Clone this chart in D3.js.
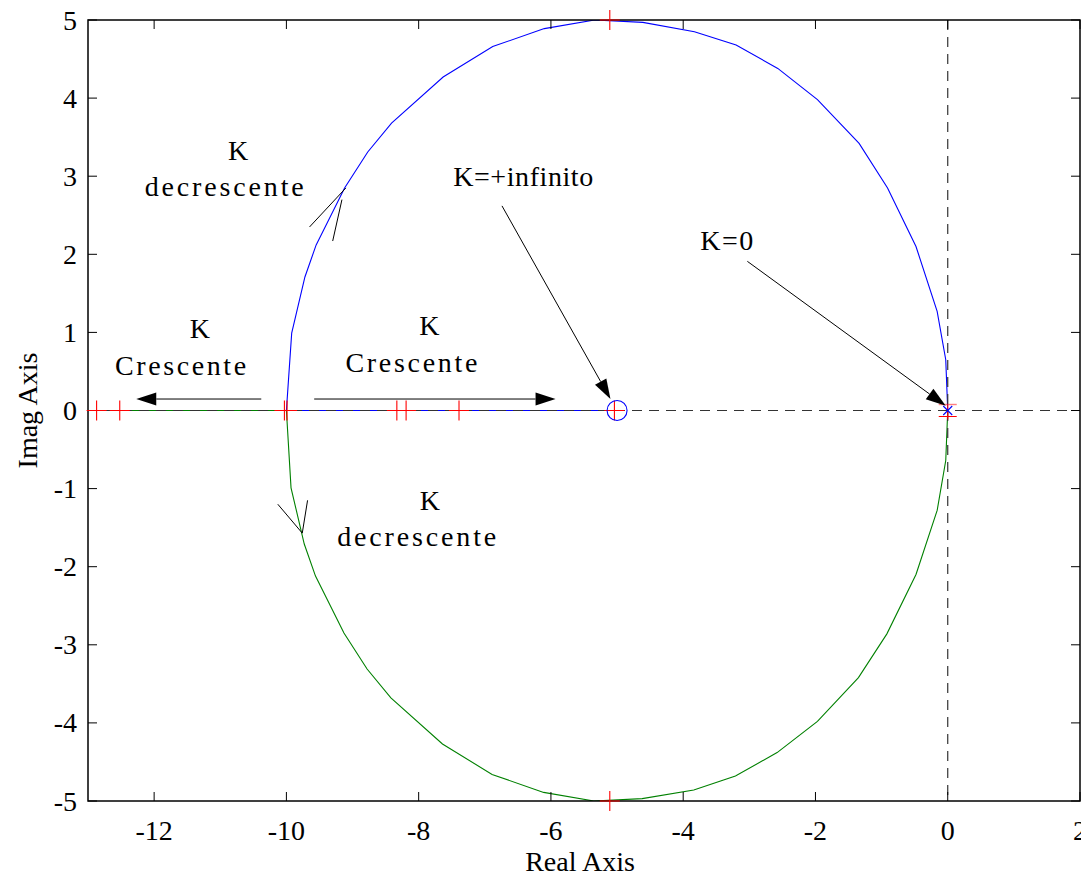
<!DOCTYPE html>
<html>
<head>
<meta charset="utf-8">
<script src="https://cdn.jsdelivr.net/npm/d3@7"></script>
<style>
  html, body { margin: 0; padding: 0; background: #fff; }
  svg { display: block; }
  text { font-family: "Liberation Serif", "Times New Roman", serif; fill: #000; }
</style>
</head>
<body>
<svg id="chart" width="1081" height="879"></svg>
<script>
// Root locus branches (real / imaginary parts of the closed-loop poles)
const upperBranchReal = [0, -0.03, -0.16, -0.48, -0.91, -1.34, -1.97, -2.57, -3.20, -3.83, -4.61, -5.34, -6.10, -6.88, -7.63, -8.41, -8.77, -9.12, -9.55, -9.72, -9.92, -10.0, -8.3, -7.4, -5.0];
const upperBranchImag = [0, 0.65, 1.27, 2.10, 2.85, 3.42, 3.98, 4.38, 4.68, 4.85, 4.97, 5.00, 4.89, 4.66, 4.27, 3.68, 3.31, 2.85, 2.12, 1.71, 0.99, 0, 0, 0, 0];
const lowerBranchReal = [0, -0.03, -0.16, -0.48, -0.92, -1.35, -1.97, -2.58, -3.21, -3.84, -4.62, -5.35, -6.11, -6.89, -7.64, -8.42, -8.78, -9.13, -9.56, -9.73, -9.93, -10.0, -12.5, -13.0];
const lowerBranchImag = [0, -0.64, -1.28, -2.10, -2.86, -3.42, -3.98, -4.38, -4.68, -4.86, -4.97, -5.00, -4.89, -4.66, -4.27, -3.68, -3.31, -2.85, -2.12, -1.71, -0.99, 0, 0, 0];

// Open-loop pole and zero
const poleReal = [0], poleImag = [0];
const zeroReal = [-5], zeroImag = [0];

// Selected gain points marked with "+"
const gainMarkReal = [-12.87, -12.52, -10.03, -9.99, -8.33, -8.19, -7.39, -5.04, -5.11, -5.11];
const gainMarkImag = [0, 0, 0, 0, 0, 0, 0, 0, 5.0, -5.0];

// Axis ticks
const xTicks = [-12, -10, -8, -6, -4, -2, 0, 2];
const yTicks = [-5, -4, -3, -2, -1, 0, 1, 2, 3, 4, 5];

// Text annotations (data coordinates)
const noteText = ["K", "decrescente", "K", "Crescente", "K", "Crescente", "K=+infinito", "K=0", "K", "decrescente"];
const noteReal = [-10.73, -10.94, -11.31, -11.60, -7.84, -8.11, -6.42, -3.34, -7.83, -8.03];
const noteImag = [3.21, 2.75, 0.93, 0.45, 0.97, 0.49, 2.87, 2.06, -1.27, -1.73];
const noteWidth = [null, 159, null, 131, null, 132, 140, 53, null, 159];

// Filled arrows: start -> tip
const arrowFromReal = [-10.38, -9.58, -6.74, -3.03];
const arrowFromImag = [0.147, 0.147, 2.62, 1.91];
const arrowToReal = [-12.27, -5.93, -5.10, -0.03];
const arrowToImag = [0.147, 0.147, 0.147, 0.06];

// Open direction strokes on the arcs
const strokeX1 = [-9.65, -9.30, -10.13, -9.68];
const strokeY1 = [2.35, 2.17, -1.20, -1.15];
const strokeX2 = [-9.10, -9.16, -9.76, -9.76];
const strokeY2 = [2.85, 2.70, -1.57, -1.57];

const svg = d3.select("#chart");
const x = d3.scaleLinear().domain([-13, 2]).range([88, 1080]);
const y = d3.scaleLinear().domain([-5, 5]).range([801, 20]);

const plot = svg.append("g");
plot.append("clipPath").attr("id", "plotClip")
  .append("rect").attr("x", x(-13)).attr("y", y(5))
  .attr("width", x(2) - x(-13)).attr("height", y(-5) - y(5));
const inner = plot.append("g").attr("clip-path", "url(#plotClip)");

const line = d3.line().x(d => x(d[0])).y(d => y(d[1]));
const upper = upperBranchReal.map((r, i) => [r, upperBranchImag[i]]);
const lower = lowerBranchReal.map((r, i) => [r, lowerBranchImag[i]]);

inner.append("path").datum(lower).attr("d", line)
  .attr("fill", "none").attr("stroke", "#008000").attr("stroke-width", 1.1);
inner.append("path").datum(upper).attr("d", line)
  .attr("fill", "none").attr("stroke", "#0000ff").attr("stroke-width", 1.1);

// Dashed real and imaginary axes
inner.append("line")
  .attr("x1", x(-13)).attr("x2", x(2)).attr("y1", y(0)).attr("y2", y(0))
  .attr("stroke", "#333").attr("stroke-width", 1.2).attr("stroke-dasharray", "10,7");
inner.append("line")
  .attr("x1", x(0)).attr("x2", x(0)).attr("y1", y(5)).attr("y2", y(-5))
  .attr("stroke", "#333").attr("stroke-width", 1.2).attr("stroke-dasharray", "10,7");

// Frame and ticks
const frame = svg.append("g");
frame.append("rect").attr("x", x(-13)).attr("y", y(5))
  .attr("width", x(2) - x(-13)).attr("height", y(-5) - y(5))
  .attr("fill", "none").attr("stroke", "#000").attr("stroke-width", 1.5);

const tl = 9;
xTicks.forEach(t => {
  frame.append("line").attr("x1", x(t)).attr("x2", x(t)).attr("y1", y(-5)).attr("y2", y(-5) - tl)
    .attr("stroke", "#000").attr("stroke-width", 1);
  frame.append("line").attr("x1", x(t)).attr("x2", x(t)).attr("y1", y(5)).attr("y2", y(5) + tl)
    .attr("stroke", "#000").attr("stroke-width", 1);
  frame.append("text").attr("x", x(t)).attr("y", 840)
    .attr("text-anchor", "middle").attr("font-size", 28).text(t);
});
yTicks.forEach(t => {
  frame.append("line").attr("x1", x(-13)).attr("x2", x(-13) + tl).attr("y1", y(t)).attr("y2", y(t))
    .attr("stroke", "#000").attr("stroke-width", 1);
  frame.append("line").attr("x1", x(2)).attr("x2", x(2) - tl).attr("y1", y(t)).attr("y2", y(t))
    .attr("stroke", "#000").attr("stroke-width", 1);
  frame.append("text").attr("x", 77).attr("y", y(t)).attr("dy", "0.34em")
    .attr("text-anchor", "end").attr("font-size", 28).text(t);
});

// Gain marks (drawn over the frame, not clipped)
const marks = svg.append("g");
const ms = 10;
marks.selectAll(".gm").data(gainMarkReal.map((r, i) => [r, gainMarkImag[i]]))
  .enter().append("path")
  .attr("d", d => `M${x(d[0]) - ms},${y(d[1])}H${x(d[0]) + ms}M${x(d[0])},${y(d[1]) - ms}V${y(d[1]) + ms}`)
  .attr("stroke", "#ff0000").attr("stroke-width", 1.1).attr("fill", "none");

// Gain mark at the pole
const px0 = x(poleReal[0]), py0 = y(poleImag[0]);
marks.append("path")
  .attr("d", `M${px0 - 9},${py0 - 6}H${px0 + 9}`)
  .attr("stroke", "#ff0000").attr("stroke-opacity", 0.5).attr("stroke-width", 1.4);
marks.append("path")
  .attr("d", `M${px0 - 9},${py0 + 6}H${px0 + 9}M${px0},${py0 - 6}V${py0 + 9}`)
  .attr("stroke", "#ff0000").attr("stroke-width", 1.1);

// Pole (x) and zero (o)
marks.selectAll(".pole").data(poleReal.map((r, i) => [r, poleImag[i]]))
  .enter().append("path")
  .attr("d", d => { const cx = x(d[0]), cy = y(d[1]), s = 4.5;
    return `M${cx - s},${cy - s}L${cx + s},${cy + s}M${cx - s},${cy + s}L${cx + s},${cy - s}`; })
  .attr("stroke", "#0000ff").attr("stroke-width", 1.1);
marks.selectAll(".zero").data(zeroReal.map((r, i) => [r, zeroImag[i]]))
  .enter().append("circle")
  .attr("cx", d => x(d[0])).attr("cy", d => y(d[1])).attr("r", 10)
  .attr("fill", "none").attr("stroke", "#0000ff").attr("stroke-width", 1.1);

// Axis titles
svg.append("text").attr("x", 580).attr("y", 871).attr("text-anchor", "middle")
  .attr("font-size", 28).text("Real Axis");
svg.append("text").attr("transform", `translate(37,${y(0)}) rotate(-90)`)
  .attr("text-anchor", "middle").attr("font-size", 28).text("Imag Axis");

// Annotations
const notes = svg.append("g");
noteText.forEach((s, i) => {
  const t = notes.append("text").attr("x", x(noteReal[i])).attr("y", y(noteImag[i]))
    .attr("text-anchor", "middle").attr("font-size", 28).text(s);
  if (noteWidth[i]) t.attr("textLength", noteWidth[i]).attr("lengthAdjust", "spacing");
});

arrowFromReal.forEach((_, i) => {
  const x1 = x(arrowFromReal[i]), y1 = y(arrowFromImag[i]);
  const x2 = x(arrowToReal[i]), y2 = y(arrowToImag[i]);
  const a = Math.atan2(y2 - y1, x2 - x1), L = 20, W = 6.5;
  const bx = x2 - L * Math.cos(a), by = y2 - L * Math.sin(a);
  notes.append("line").attr("x1", x1).attr("y1", y1).attr("x2", bx).attr("y2", by)
    .attr("stroke", "#000").attr("stroke-width", 1);
  notes.append("path")
    .attr("d", `M${x2},${y2}L${bx + W * Math.sin(a)},${by - W * Math.cos(a)}L${bx - W * Math.sin(a)},${by + W * Math.cos(a)}Z`)
    .attr("fill", "#000");
});

strokeX1.forEach((_, i) => {
  notes.append("line")
    .attr("x1", x(strokeX1[i])).attr("y1", y(strokeY1[i]))
    .attr("x2", x(strokeX2[i])).attr("y2", y(strokeY2[i]))
    .attr("stroke", "#000").attr("stroke-width", 1);
});
</script>
</body>
</html>
